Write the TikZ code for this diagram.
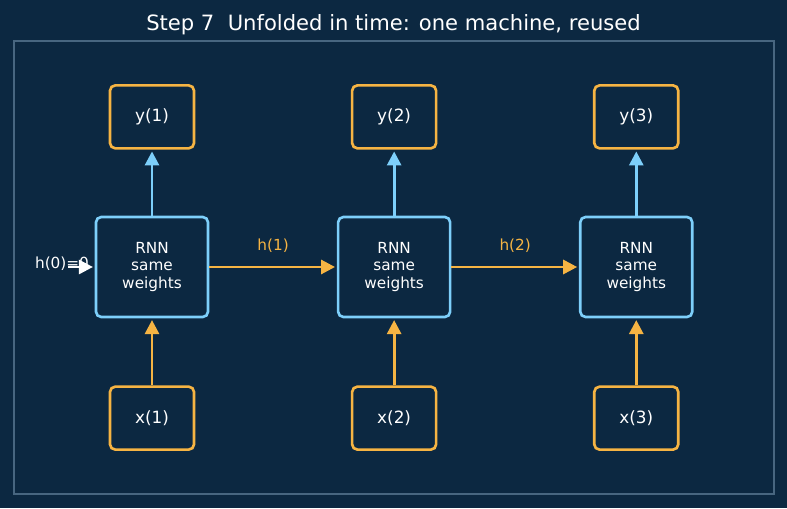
\documentclass[tikz,border=0pt]{standalone}
\usepackage{fontspec}
\setmainfont{DejaVu Sans}
\usetikzlibrary{positioning, arrows.meta}
\definecolor{bgnavy}{RGB}{12,40,65}
\definecolor{cellblue}{RGB}{125,207,250}
\definecolor{ioorange}{RGB}{246,180,67}
\definecolor{framegray}{RGB}{72,102,128}

\begin{document}
\begin{tikzpicture}[
    rnn/.style={rectangle, rounded corners=3pt, draw=cellblue, line width=1.5pt, minimum width=2.24cm, minimum height=2cm, align=center, text=white, font=\fontsize{8.7}{9.9}\selectfont},
    io/.style={rectangle, rounded corners=3pt, draw=ioorange, line width=1.5pt, minimum width=1.68cm, minimum height=1.26cm, text=white, font=\fontsize{9.6}{11}\selectfont},
    upcell/.style={-{Triangle[length=8pt,width=8pt]}, line width=1.6pt, shorten >=1pt},
    hidden/.style={text=ioorange, font=\fontsize{8.7}{10}\selectfont}
]

% background and frame
\fill[bgnavy] (0,0) rectangle (15.74,10.16);
\useasboundingbox (0,0) rectangle (15.74,10.16);
\draw[framegray, line width=0.8pt] (0.28,0.28) rectangle (15.48,9.34);

% title
\node[text=white, font=\fontsize{12}{14}\selectfont] (title) at (7.87,9.66) {Step 7\ \ Unfolded in time: one machine, reused};

% RNN cells
\node[rnn] (rnn1) at (3.04,4.82) {RNN\\same\\weights};
\node[rnn, right=2.55cm of rnn1] (rnn2) {RNN\\same\\weights};
\node[rnn, right=2.55cm of rnn2] (rnn3) {RNN\\same\\weights};

% outputs
\node[io, above=1.32cm of rnn1] (y1) {y(1)};
\node[io, above=1.32cm of rnn2] (y2) {y(2)};
\node[io, above=1.32cm of rnn3] (y3) {y(3)};

% inputs
\node[io, below=1.34cm of rnn1] (x1) {x(1)};
\node[io, below=1.34cm of rnn2] (x2) {x(2)};
\node[io, below=1.34cm of rnn3] (x3) {x(3)};

% initial state
\node[text=white, font=\fontsize{8.7}{10}\selectfont] (h0) at (1.24,4.88) {h(0)=0};
\coordinate (h0start) at (1.36,4.82);
\draw[upcell, white] (h0start) -- (rnn1.west);

% connections
\draw[upcell, cellblue] (rnn1.north) -- (y1.south);
\draw[upcell, cellblue] (rnn2.north) -- (y2.south);
\draw[upcell, cellblue] (rnn3.north) -- (y3.south);
\draw[upcell, ioorange] (x1.north) -- (rnn1.south);
\draw[upcell, ioorange] (x2.north) -- (rnn2.south);
\draw[upcell, ioorange] (x3.north) -- (rnn3.south);
\draw[upcell, ioorange] (rnn1.east) -- (rnn2.west) node[midway, above=0.15cm, hidden] {h(1)};
\draw[upcell, ioorange] (rnn2.east) -- (rnn3.west) node[midway, above=0.15cm, hidden] {h(2)};

\end{tikzpicture}
\end{document}
